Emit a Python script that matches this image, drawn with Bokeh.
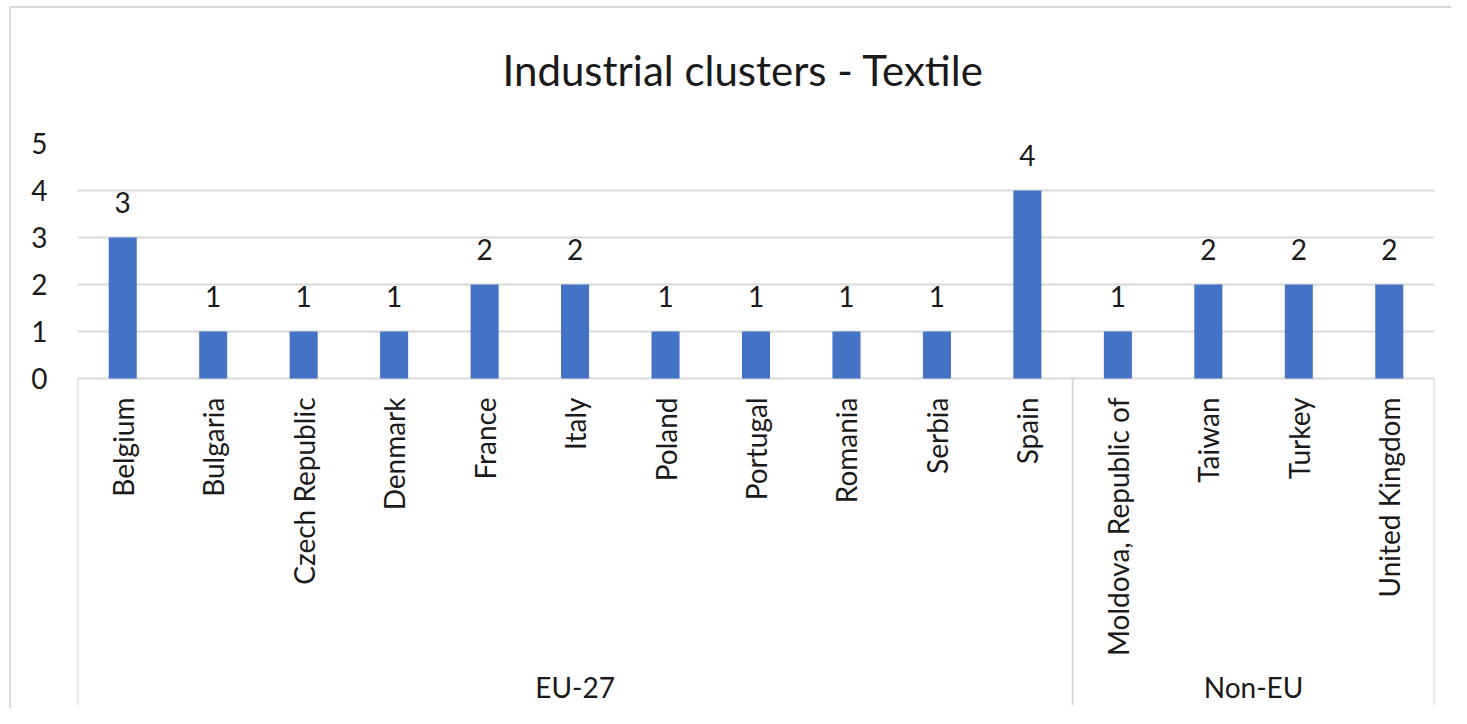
from bokeh.plotting import figure
from bokeh.models import Range1d, FixedTicker, ColumnDataSource, Title
from bokeh.core.properties import value
from bokeh.embed import file_html
from bokeh.resources import INLINE

title_text = "Industrial clusters - Textile"
countries = ["Belgium", "Bulgaria", "Czech Republic", "Denmark", "France", "Italy",
             "Poland", "Portugal", "Romania", "Serbia", "Spain",
             "Moldova, Republic of", "Taiwan", "Turkey", "United Kingdom"]
counts = [3, 1, 1, 1, 2, 2, 1, 1, 1, 1, 4, 1, 2, 2, 2]
groups = ["EU-27", "Non-EU"]
group_sizes = [11, 4]
y_ticks = [0, 1, 2, 3, 4, 5]

FONT = "Lato"
TXT = "#1a1a1a"
GRID = "#d9d9d9"
BAR = "#4472C4"

W, H = 1451, 708
LEFT, RIGHT, TOP, BOTTOM = 77, 17, 143, 3
UNIT = 47.0
y_top = max(y_ticks)
y_bottom = y_top - (H - TOP - BOTTOM) / UNIT

p = figure(width=W, height=H, output_backend="svg", toolbar_location=None,
           x_range=Range1d(0, len(countries)), y_range=Range1d(y_bottom, y_top),
           min_border_left=LEFT, min_border_right=RIGHT,
           min_border_top=TOP, min_border_bottom=BOTTOM,
           title=title_text)
p.outline_line_color = None
p.background_fill_color = None
p.border_fill_color = None
# outer chart border: only its left and top edges fall inside the picture
p.styles = {
    "background": ("linear-gradient(#d9d9d9,#d9d9d9) 9px 6px / 2px 100% no-repeat, "
                   "linear-gradient(#d9d9d9,#d9d9d9) 9px 6px / 100% 2px no-repeat, "
                   "#ffffff"),
}

p.title.text_font = FONT
p.title.text_font_size = "42px"
p.title.text_font_style = "normal"
p.title.text_color = TXT
p.title.align = "left"
p.title.offset = 425
p.title.standoff = 10

# blank spacer between the title and the plot area
p.add_layout(Title(text=" ", text_font_size="20px", standoff=20), "above")

p.xaxis.visible = False
p.xgrid.visible = False
p.yaxis.ticker = FixedTicker(ticks=y_ticks)
p.yaxis.axis_line_color = None
p.yaxis.major_tick_line_color = None
p.yaxis.minor_tick_line_color = None
p.yaxis.major_label_standoff = 24
p.yaxis.major_label_text_font = FONT
p.yaxis.major_label_text_font_size = "28px"
p.yaxis.major_label_text_color = TXT
p.ygrid.ticker = FixedTicker(ticks=y_ticks)
p.ygrid.grid_line_color = GRID
p.ygrid.grid_line_width = 2

xs = [i + 0.5 for i in range(len(countries))]
src = ColumnDataSource(dict(x=xs, top=counts, name=countries,
                            lab=[str(c) for c in counts], zero=[0] * len(countries)))

p.vbar(x="x", top="top", bottom=0, width=0.31, source=src,
       fill_color=BAR, line_color=None)

p.text(x="x", y="top", text="lab", source=src, text_font=value(FONT),
       text_font_size="28px", text_color=TXT, text_align="center",
       text_baseline="alphabetic", y_offset=-35)

# category labels (rotated)
p.text(x="x", y="zero", text="name", source=src, text_font=value(FONT),
       text_font_size="28px", text_color=TXT, angle=1.5707963,
       text_align="right", text_baseline="middle", y_offset=19)

# group boxes
bounds = [0]
for s in group_sizes:
    bounds.append(bounds[-1] + s)
p.segment(x0=bounds, x1=bounds, y0=[0] * len(bounds), y1=[y_bottom] * len(bounds),
          line_color=GRID, line_width=2)

gx = [(bounds[i] + bounds[i + 1]) / 2 for i in range(len(groups))]
p.text(x=gx, y=[y_bottom] * len(groups), text=groups, text_font=value(FONT),
       text_font_size="28px", text_color=TXT, text_align="center",
       text_baseline="alphabetic", y_offset=-19)

open("out.html", "w").write(file_html(p, INLINE))
